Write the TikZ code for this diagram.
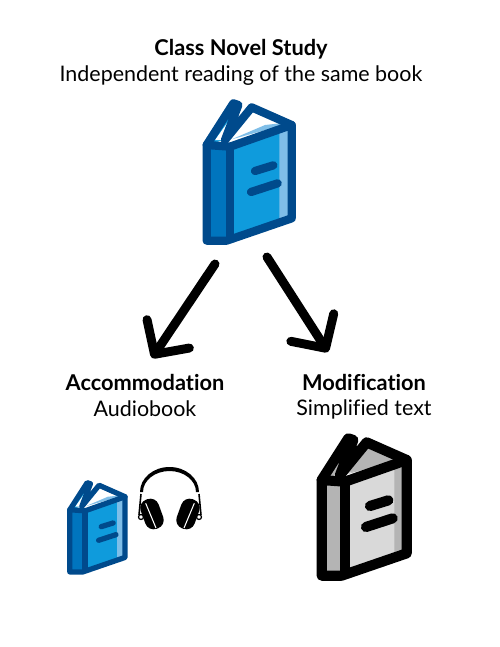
\documentclass[tikz,border=0pt]{standalone}
\usepackage{fontspec}
\setmainfont[Ligatures=NoCommon]{Lato}
\usepackage{tikz}
\usetikzlibrary{arrows.meta, positioning}
\definecolor{bluedark}{HTML}{004A8C}
\definecolor{bluespine}{HTML}{0075BE}
\definecolor{bluecover}{HTML}{0F9BDC}
\definecolor{bluelight}{HTML}{7FBEE8}
\definecolor{greyspine}{HTML}{B4B4B4}
\definecolor{greycover}{HTML}{D9D9D9}
\tikzset{
  title/.style={font=\fontsize{12.4pt}{14pt}\selectfont\bfseries, inner sep=0pt},
  subtitle/.style={font=\fontsize{12.2pt}{14pt}\selectfont, inner sep=0pt},
  bigarrow/.style={line width=5.1pt, line cap=round, line join=round, -{Straight Barb[length=14pt,width=29pt,round]}},
  pics/book/.style n args={6}{code={
    \begin{scope}[x=0.00667cm, y=-0.00667cm, line join=round, line cap=round, line width=#6]
      \fill[#3] (50,165) -- (130,40) -- (145,45) -- (100,150) -- cycle;
      \fill[#5] (75,150) -- (132,70) -- (100,150) -- cycle;
      \fill[#5] (105,150) -- (185,52) -- (300,100) -- cycle;
      \fill[#4] (125,148) -- (225,105) -- (270,100) -- (300,100) -- cycle;
      \fill[#2] (50,165) -- (120,170) -- (120,445) -- (50,452) -- cycle;
      \fill[#3] (120,170) -- (305,105) -- (305,385) -- (120,445) -- cycle;
      \fill[#4] (268,118) -- (305,105) -- (305,385) -- (268,397) -- cycle;
      \draw[#1] (50,165) -- (130,40) -- (145,45) -- (105,150) -- (185,52) -- (305,105)
        -- (305,385) -- (110,452) -- (50,452) -- cycle;
      \draw[#1] (50,165) -- (120,170) -- (305,105);
      \draw[#1] (120,170) -- (120,445);
      \draw[#1] (195,243) -- (250,226);
      \draw[#1] (183,306) -- (263,280);
    \end{scope}
  }},
  cup/.style={fill=black, rounded corners=5pt, rotate=#1, minimum width=0.38cm, minimum height=0.62cm, inner sep=0pt}
}
\begin{document}
\begin{tikzpicture}[x=0.02cm, y=-0.02cm]
  \useasboundingbox (0,0) rectangle (500,647);
  \node[title] (novel) at (241,49) {Class Novel Study};
  \node[subtitle] (novelsub) at (241,76) {Independent reading of the same book};
  \node[title] (accom) at (145,382) {Accommodation};
  \node[subtitle] (accomsub) at (145,409) {Audiobook};
  \node[title] (modif) at (364,382) {Modification};
  \node[subtitle] (modifsub) at (364,409) {Simplified text};
  \pic at (190,90) {book={bluedark}{bluespine}{bluecover}{bluelight}{white}{4.7pt}};
  \pic at (305,425) {book={black}{greyspine}{greycover}{greyspine}{greyspine}{5.8pt}};
  \pic[scale=0.65] at (59,474) {book={bluedark}{bluespine}{bluecover}{bluelight}{white}{3pt}};
  \coordinate (leftstart) at (215,264);
  \coordinate (lefttip) at (152,358);
  \coordinate (rightstart) at (267,257);
  \coordinate (righttip) at (328,352);
  \draw[bigarrow] (leftstart) -- (lefttip);
  \draw[bigarrow] (rightstart) -- (righttip);
  \fill[black] (140,492) arc (180:360:29.5 and 25) -- (196,492) arc (360:180:26.5 and 21) -- cycle;
  \draw[line width=0.9pt] (141,494) -- (139,515);
  \draw[line width=0.9pt] (199,494) -- (201,515);
  \draw[line width=0.7pt] (141,517) circle (2.5);
  \draw[line width=0.7pt] (199,517) circle (2.5);
  \node[cup=20] (leftcup) at (152,514) {};
  \node[cup=-20] (rightcup) at (188,514) {};
  \draw[white, line width=0.6pt] (145.7,503.3) -- (156,528);
  \draw[white, line width=0.6pt] (194.3,503.3) -- (184,528);
\end{tikzpicture}
\end{document}
